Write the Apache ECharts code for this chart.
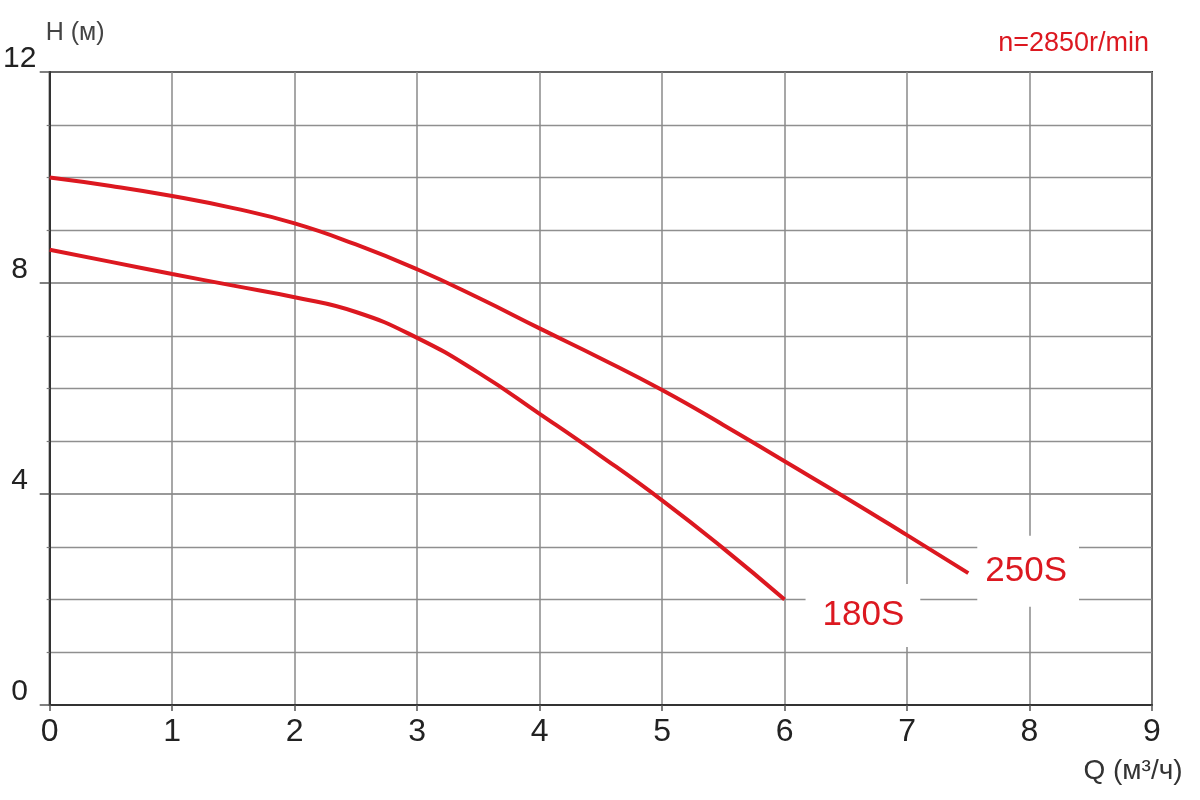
<!DOCTYPE html>
<html>
<head>
<meta charset="utf-8">
<script src="https://cdn.jsdelivr.net/npm/echarts@6/dist/echarts.min.js"></script>
<style>html,body{margin:0;padding:0;background:#fff}#c{width:1200px;height:800px}</style>
</head>
<body>
<div id="c"></div>
<script>
// Data
const q250 = [0, 0.5, 1, 1.5, 2, 2.5, 3, 3.5, 4, 4.5, 5, 5.5, 6, 6.5, 7, 7.5];
const h250 = [10.0, 9.84, 9.65, 9.42, 9.13, 8.73, 8.26, 7.72, 7.14, 6.57, 5.97, 5.31, 4.62, 3.93, 3.22, 2.5];
const q180 = [0, 0.5, 1, 1.5, 2, 2.5, 3, 3.5, 4, 4.5, 5, 5.5, 6];
const h180 = [8.63, 8.4, 8.17, 7.95, 7.73, 7.45, 6.96, 6.3, 5.52, 4.72, 3.88, 2.97, 2.0];
const seriesNames = ['250S', '180S'];
const speedText = 'n=2850r/min';
const yName = 'H (м)';
const xName = 'Q (м³/ч)';

const FONT = "'Liberation Sans', Arial, sans-serif";
const RED = '#dc1820';
const pairs = (xs, ys) => xs.map((x, i) => [x, ys[i]]);

const chart = echarts.init(document.getElementById('c'), null, {renderer: 'canvas'});
chart.setOption({
  animation: false,
  backgroundColor: '#fff',
  title: {
    text: speedText,
    right: 46, top: 25,
    textStyle: {fontFamily: FONT, fontSize: 27, fontWeight: 'normal', color: RED}
  },
  grid: {left: 48, right: 48, top: 72, bottom: 95, show: true, borderColor: '#333', borderWidth: 2, containLabel: false},
  xAxis: {
    type: 'value', min: 0, max: 9, interval: 1,
    name: xName, nameLocation: 'end', nameGap: -19,
    nameTextStyle: {fontFamily: FONT, fontSize: 28, color: '#333', align: 'center', verticalAlign: 'top', padding: [52, 0, 0, 0]},
    axisLine: {show: true, lineStyle: {color: '#333', width: 2}},
    axisTick: {show: true, length: 6, lineStyle: {color: '#555', width: 1.5}},
    axisLabel: {fontFamily: FONT, fontSize: 32, color: '#222', margin: 11},
    splitLine: {show: true, lineStyle: {color: '#8a8a8a', width: 1.5}}
  },
  yAxis: {
    type: 'value', min: 0, max: 12, interval: 4,
    name: yName, nameLocation: 'end', nameGap: 26,
    nameTextStyle: {fontFamily: FONT, fontSize: 25, color: '#444', align: 'left', padding: [0, 0, 0, -4]},
    axisLine: {show: true, lineStyle: {color: '#333', width: 2}},
    axisTick: {show: true, length: 10, lineStyle: {color: '#555', width: 1.5}},
    minorTick: {show: true, splitNumber: 4, length: 3, lineStyle: {color: '#777', width: 1.2}},
    axisLabel: {fontFamily: FONT, fontSize: 30, color: '#222', margin: 30, align: 'center', verticalAlign: 'bottom', lineHeight: 26},
    splitLine: {show: true, lineStyle: {color: '#777', width: 1.6}},
    minorSplitLine: {show: true, lineStyle: {color: '#8f8f8f', width: 1.3}}
  },
  series: [
    {
      name: seriesNames[0], type: 'line', smooth: 0.5, showSymbol: false, symbol: 'none',
      data: pairs(q250, h250),
      lineStyle: {color: RED, width: 4},
      endLabel: {show: true, formatter: '{a}', fontFamily: FONT, fontSize: 35, color: RED,
        backgroundColor: '#fff', padding: [18, 12, 18, 8], distance: 0, offset: [9, -2]}
    },
    {
      name: seriesNames[1], type: 'line', smooth: 0.5, showSymbol: false, symbol: 'none',
      data: pairs(q180, h180),
      lineStyle: {color: RED, width: 4},
      endLabel: {show: true, formatter: '{a}', fontFamily: FONT, fontSize: 35, color: RED,
        backgroundColor: '#fff', padding: [14, 16, 14, 17], distance: 0, offset: [21, 16]}
    }
  ]
});
</script>
</body>
</html>
